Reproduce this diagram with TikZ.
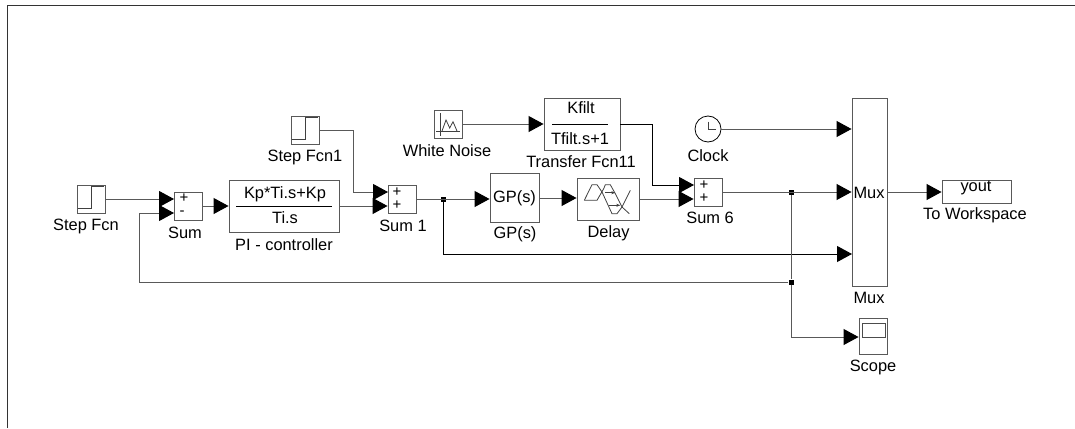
\documentclass[tikz,border=0pt]{standalone}
\usepackage{fontspec}
\setmainfont{Liberation Sans}
\usetikzlibrary{arrows.meta}
\tikzset{
	blockbox/.style={draw=black!65, line width=0.9pt, inner sep=0pt, anchor=center},
	blocklabel/.style={inner sep=0pt, font=\fontsize{16.4}{18}\selectfont},
	blocktext/.style={inner sep=0pt, font=\fontsize{16.4}{18}\selectfont},
	signs/.style={inner sep=0pt, font=\fontsize{15}{15}\selectfont},
	icon/.style={draw=black!75, line width=0.8pt},
	sig/.style={draw=black!65, line width=1pt, -{Triangle[length=15pt,width=16pt,color=black,fill=black]}},
	wire/.style={draw=black!65, line width=1pt},
	junction/.style={fill=black, inner sep=0pt, minimum size=5pt},
}
\begin{document}
\begin{tikzpicture}[x=1pt, y=-1pt]
	\useasboundingbox (0,0) rectangle (1075,428);
	%frame
	\draw[line width=1pt, black!80] (7,428) -- (7,6) -- (1075,6);
	%
	%Step Fcn
	\node[blockbox, minimum width=28pt, minimum height=28pt] (stepfcn) at (91,199) {};
	\node[blocklabel] (stepfcnlabel) at (86,226) {Step Fcn};
	\draw[icon] (78,208.3) -- (91,208.3) -- (91,186.7) -- (104,186.7);
	%
	%Step Fcn1
	\node[blockbox, minimum width=28pt, minimum height=28pt] (stepfcnone) at (305,130) {};
	\node[blocklabel] (stepfcnonelabel) at (305,157) {Step Fcn1};
	\draw[icon] (292,139.3) -- (305,139.3) -- (305,117.7) -- (318,117.7);
	%
	%Sum
	\node[blockbox, minimum width=28pt, minimum height=28pt] (sum) at (188,206) {};
	\node[signs] (sumplus) at (184,198) {+};
	\node[signs] (summinus) at (182,213) {-};
	\node[blocklabel] (sumlabel) at (185,233) {Sum};
	%
	%PI - controller
	\node[blockbox, minimum width=110pt, minimum height=52pt] (picontrol) at (284,206) {};
	\node[blocktext] (pinum) at (285,194) {Kp*Ti.s+Kp};
	\node[blocktext] (piden) at (285,218) {Ti.s};
	\draw[line width=1pt] (236,206) -- (332,206);
	\node[blocklabel] (pilabel) at (284,245) {PI - controller};
	%
	%Sum 1
	\node[blockbox, minimum width=28pt, minimum height=28pt] (sumone) at (402,199) {};
	\node[signs] (sumoneplusa) at (397,192) {+};
	\node[signs] (sumoneplusb) at (397,205) {+};
	\node[blocklabel] (sumonelabel) at (403,226) {Sum 1};
	%
	%White Noise
	\node[blockbox, minimum width=28pt, minimum height=28pt] (noise) at (448,124) {};
	\node[blocklabel] (noiselabel) at (447,151) {White Noise};
	\draw[icon] (440.7,113) -- (440.7,136);
	\draw[icon] (436,131.7) -- (460,131.7);
	\draw[icon] (442,131) -- (446,120) -- (449.7,128) -- (453,121.7) -- (457,131);
	%
	%Transfer Fcn11
	\node[blockbox, minimum width=76pt, minimum height=52pt] (transfer) at (582,124) {};
	\node[blocktext] (transfernum) at (581,108) {Kfilt};
	\node[blocktext] (transferden) at (580,139) {Tfilt.s+1};
	\draw[line width=1pt] (552,124) -- (608,124);
	\node[blocklabel] (transferlabel) at (581,162) {Transfer Fcn11};
	%
	%GP(s)
	\node[blockbox, blocktext, minimum width=49pt, minimum height=49pt] (plant) at (514.5,198) {GP(s)};
	\node[blocklabel] (plantlabel) at (515,234) {GP(s)};
	%
	%Delay
	\node[blockbox, minimum width=62pt, minimum height=42pt] (delay) at (608,199) {};
	\node[blocklabel] (delaylabel) at (608.5,233) {Delay};
	\draw[icon] (584.3,200.3) -- (592,184.7) -- (597,184.7) -- (602,192) -- (612,213.7) -- (617,213.7) -- (622,207) -- (630.3,190.3);
	\draw[icon] (584.3,200.3) -- (597,200.3) -- (603.7,188.7) -- (605.3,184.7) -- (610.3,184.7) -- (615.3,193.7) -- (622,207) -- (629.3,213.7);
	\draw[icon, -{Stealth[length=4pt]}] (605,192.7) -- (615.3,192.7);
	\draw[icon, -{Stealth[length=4pt]}] (609.3,205.3) -- (620.3,205.3);
	%
	%Sum 6
	\node[blockbox, minimum width=28pt, minimum height=28pt] (sumsix) at (708,192) {};
	\node[signs] (sumsixplusa) at (704,185) {+};
	\node[signs] (sumsixplusb) at (704,198) {+};
	\node[blocklabel] (sumsixlabel) at (710,218) {Sum 6};
	%
	%Clock
	\node[draw=black, line width=0.8pt, circle, minimum size=26pt, inner sep=0pt] (clock) at (708,129) {};
	\draw[icon] (708.3,121.7) -- (708.3,129.3) -- (715.7,129.3);
	\node[blocklabel] (clocklabel) at (708,156) {Clock};
	%
	%Mux
	\node[blockbox, minimum width=35pt, minimum height=188pt] (mux) at (869.5,192) {};
	\node[blocktext] (muxtext) at (869,193) {Mux};
	\node[blocklabel] (muxlabel) at (869,298) {Mux};
	%
	%To Workspace
	\node[blockbox, minimum width=69pt, minimum height=23pt] (workspace) at (976.5,191.5) {};
	\node[blocktext] (yout) at (976,188) {yout};
	\node[blocklabel] (workspacelabel) at (975,215) {To Workspace};
	%
	%Scope
	\node[blockbox, minimum width=28pt, minimum height=36pt] (scope) at (873,336) {};
	\draw[line width=0.9pt, black!70] (862,323) rectangle (885,337);
	\node[blocklabel] (scopelabel) at (873,367) {Scope};
	%
	%junctions and ports
	\node[junction] (junctionsum) at (443,199) {};
	\node[junction] (junctionmux) at (791,192) {};
	\node[junction] (junctionfeed) at (791,282) {};
	\coordinate (sumin) at (174,199);
	\coordinate (sumfeed) at (174,213);
	\coordinate (feedcorner) at (139,282);
	\coordinate (sumoneina) at (388,192);
	\coordinate (stepcorner) at (353,130);
	\coordinate (sumsixina) at (694,185);
	\coordinate (transfercorner) at (652,124);
	\coordinate (muxthree) at (852,254);
	\coordinate (scopecorner) at (791,337);
	%
	%Pfeile
	\draw[sig] (stepfcn.east |- sumin) -- (sumin);
	\draw[sig] (junctionfeed) -- (feedcorner) |- (sumfeed);
	\draw[sig] (sum.east |- picontrol.west) -- (picontrol.west);
	\draw[sig] (stepfcnone.east) -- (stepcorner) |- (sumoneina);
	\draw[sig] (picontrol.east) -- (picontrol.east -| sumone.west);
	\draw[sig] (sumone.east) -- (sumone.east -| plant.west);
	\draw[sig, draw=black] (junctionsum) |- (muxthree);
	\draw[sig] (plant.east) -- (delay.west |- plant.east);
	\draw[sig] (delay.east) -- (delay.east -| sumsix.west);
	\draw[sig] (noise.east) -- (transfer.west);
	\draw[sig, draw=black] (transfer.east) -- (transfercorner) |- (sumsixina);
	\draw[sig] (clock.east) -- (clock.east -| mux.west);
	\draw[sig] (sumsix.east) -- (mux.west);
	\draw[sig] (mux.east) -- (workspace.west |- mux.east);
	\draw[wire] (junctionmux) -- (junctionfeed);
	\draw[sig] (junctionfeed) -- (scopecorner) -- (scope.west |- scopecorner);
\end{tikzpicture}
\end{document}
